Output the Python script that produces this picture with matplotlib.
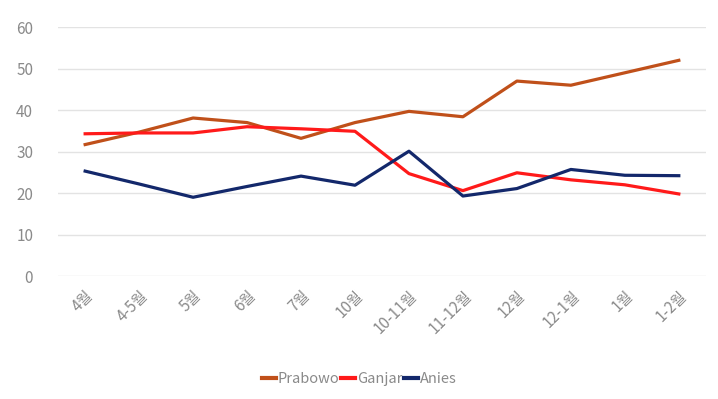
import matplotlib
matplotlib.use("Agg")
import matplotlib.pyplot as plt

plt.rcParams['font.family'] = ['Noto Sans CJK KR', 'DejaVu Sans']

# data
months = ['4월', '4-5월', '5월', '6월', '7월', '10월', '10-11월', '11-12월',
          '12월', '12-1월', '1월', '1-2월']
prabowo = [31.7, 34.7, 38.1, 37.0, 33.2, 37.0, 39.7, 38.4, 47.0, 46.0, 49.0, 52.0]
ganjar = [34.3, 34.5, 34.5, 36.0, 35.5, 34.9, 24.7, 20.6, 24.9, 23.2, 22.0, 19.8]
anies = [25.3, 22.2, 19.0, 21.6, 24.1, 21.9, 30.1, 19.3, 21.1, 25.7, 24.3, 24.2]

fig = plt.figure(figsize=(7.18, 3.99), dpi=100)
ax = fig.add_axes([0.081, 0.308, 0.902, 0.624])

x = range(len(months))
ax.plot(x, prabowo, color='#c0501a', lw=2.3, label='Prabowo')
ax.plot(x, ganjar, color='#ff1a1a', lw=2.3, label='Ganjar')
ax.plot(x, anies, color='#13286b', lw=2.3, label='Anies')

ax.set_xlim(-0.5, len(months) - 0.5)
ax.set_ylim(0, 60)
ax.set_yticks(range(0, 61, 10))
ax.grid(axis='y', color='#e3e3e3', lw=1)
ax.set_axisbelow(True)
for s in ax.spines.values():
    s.set_visible(False)
ax.tick_params(length=0, colors='#8a8a8a', labelsize=11)
ax.tick_params(axis='y', pad=18)
ax.set_xticks(list(x))
ax.set_xticklabels(months, rotation=45, ha='right', rotation_mode='anchor')
ax.tick_params(axis='x', pad=8)

leg = fig.legend(loc='center', bbox_to_anchor=(0.5, 0.05), ncol=3, frameon=False,
                 handlelength=1.0, handletextpad=0.1, columnspacing=0.1,
                 fontsize=10.5)
for t in leg.get_texts():
    t.set_color('#8a8a8a')
for h in leg.legend_handles:
    h.set_linewidth(3)

fig.savefig('out.png', dpi=100)
